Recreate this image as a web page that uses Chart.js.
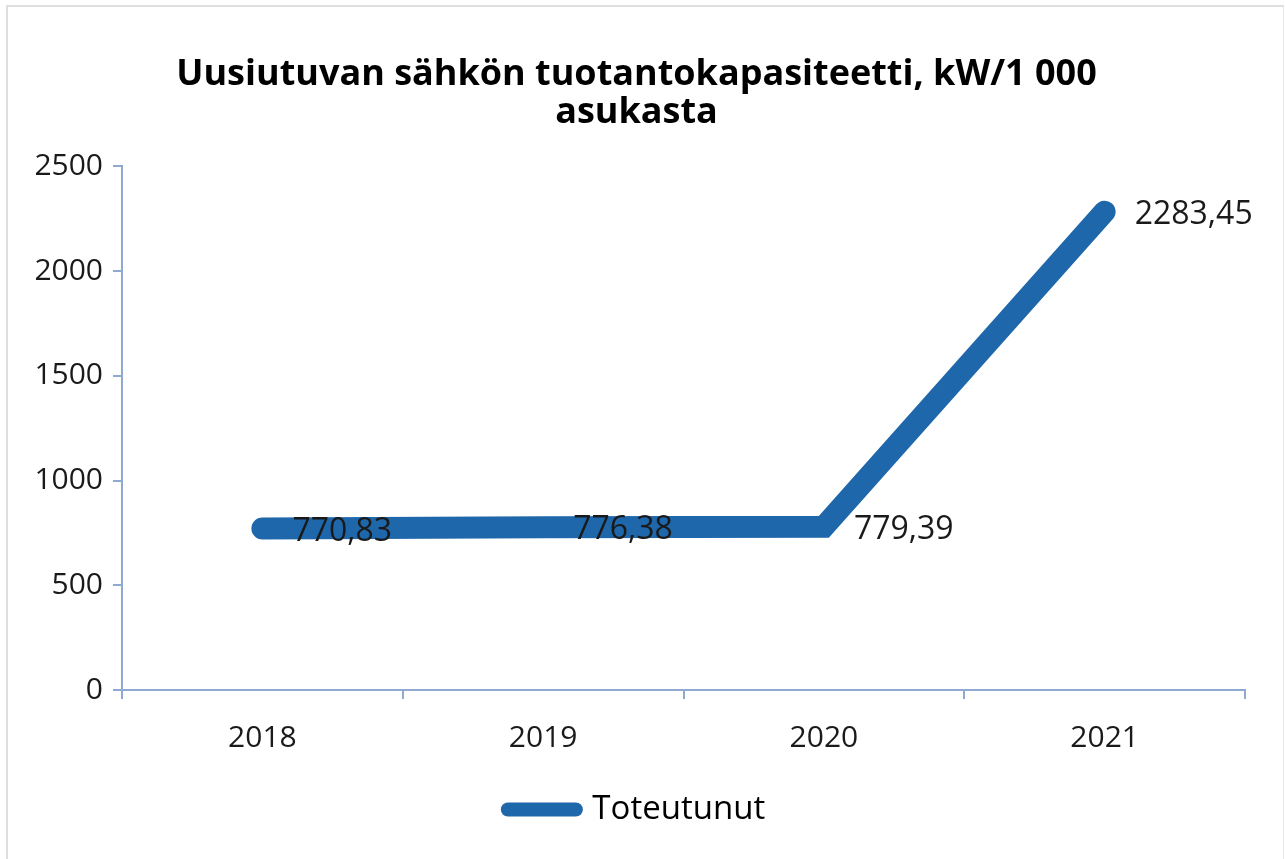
<!DOCTYPE html>
<html>
<head>
<meta charset="utf-8">
<script src="https://cdn.jsdelivr.net/npm/chart.js@4/dist/chart.umd.min.js"></script>
<style>
  html, body { margin: 0; padding: 0; background: #fff; }
  #wrap { position: absolute; left: 0; top: 0; width: 1285px; height: 859px; }
  #frame { position: absolute; left: 6px; top: 5px; width: 1278px; height: 860px; border-left: 2px solid #dedede; border-top: 2px solid #dedede; border-right: 1px solid #e8e8e8; box-sizing: border-box; pointer-events: none; }
  canvas { position: absolute; left: 0; top: 0; }
</style>
</head>
<body>
<div id="wrap">
  <canvas id="c" width="1285" height="859"></canvas>
  <div id="frame"></div>
</div>
<script>
const categories = ['2018', '2019', '2020', '2021'];
const seriesName = 'Toteutunut';
const values = [770.83, 776.38, 779.39, 2283.45];
const valueLabels = ['770,83', '776,38', '779,39', '2283,45'];
const titleLines = ['Uusiutuvan sähkön tuotantokapasiteetti, kW/1 000', 'asukasta'];

const lineColor = '#1f67ab';
const axisColor = '#8eaad2';

const dataLabelPlugin = {
  id: 'dataLabels',
  afterDatasetsDraw(chart) {
    const ctx = chart.ctx;
    const meta = chart.getDatasetMeta(0);
    ctx.save();
    ctx.font = '32px "Open Sans"';
    ctx.fillStyle = '#1a1a1a';
    ctx.textAlign = 'left';
    ctx.textBaseline = 'middle';
    meta.data.forEach((pt, i) => {
      ctx.fillText(valueLabels[i], pt.x + 30, pt.y + 3);
    });
    ctx.restore();
  }
};

new Chart(document.getElementById('c'), {
  type: 'line',
  data: {
    labels: categories,
    datasets: [{
      label: seriesName,
      data: values,
      borderColor: lineColor,
      backgroundColor: lineColor,
      borderWidth: 22,
      borderCapStyle: 'round',
      borderJoinStyle: 'miter',
      pointRadius: 0,
      pointHoverRadius: 0,
      tension: 0,
      fill: false
    }]
  },
  options: {
    responsive: false,
    animation: false,
    layout: { padding: { left: 0, right: 12, top: 0, bottom: 23 } },
    plugins: {
      tooltip: { enabled: false },
      title: {
        display: true,
        text: titleLines,
        color: '#000',
        font: { family: '"Open Sans"', size: 36, weight: 'bold', lineHeight: 1.06 },
        padding: { top: 56, bottom: 34 }
      },
      legend: {
        position: 'bottom',
        labels: {
          usePointStyle: true,
          pointStyleWidth: 68,
          boxHeight: 14,
          color: '#222',
          font: { family: '"Open Sans"', size: 33 },
          padding: 10,
          generateLabels(chart) {
            return [{
              text: seriesName,
              pointStyle: 'line',
              strokeStyle: lineColor,
              fillStyle: lineColor,
              lineWidth: 14,
              lineCap: 'round',
              datasetIndex: 0,
              hidden: false
            }];
          }
        }
      }
    },
    scales: {
      x: {
        offset: true,
        border: { color: axisColor, width: 2 },
        grid: { display: true, drawOnChartArea: false, drawTicks: true, tickLength: 9, color: axisColor, lineWidth: 2, offset: true },
        ticks: { color: '#1a1a1a', font: { family: '"Open Sans"', size: 30 }, padding: 21 },
        afterFit(scale) { scale.height = 93; }
      },
      y: {
        min: 0,
        max: 2500,
        border: { color: axisColor, width: 2 },
        grid: { display: true, drawOnChartArea: false, drawTicks: true, tickLength: 9, color: axisColor, lineWidth: 2 },
        ticks: { stepSize: 500, color: '#1a1a1a', font: { family: '"Open Sans"', size: 30 }, padding: 10,
                 callback: (v) => String(v) },
        afterFit(scale) { scale.width = 122; }
      },
      yRight: {
        type: 'linear',
        position: 'right',
        min: 0,
        max: 2500,
        border: { display: false },
        grid: { display: false, drawTicks: false },
        ticks: { display: false },
        afterFit(scale) { scale.width = 28; }
      }
    }
  },
  plugins: [dataLabelPlugin]
});
</script>
</body>
</html>
